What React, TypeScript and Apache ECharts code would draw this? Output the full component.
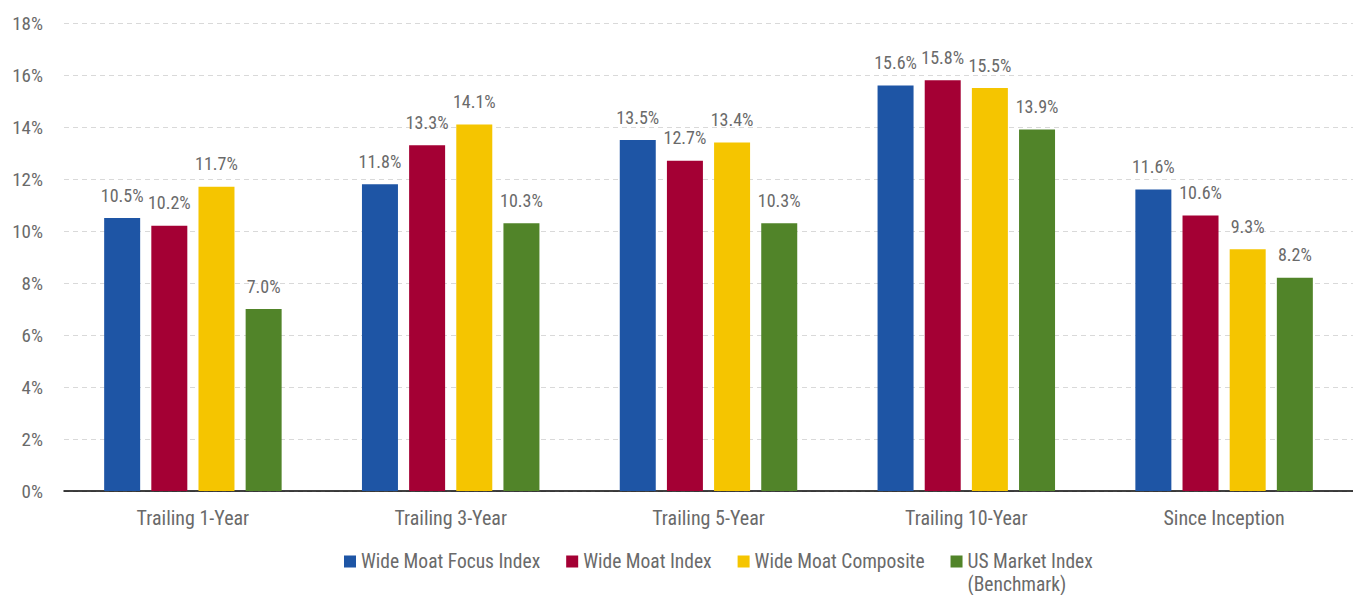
import React, { useEffect, useRef } from "react";
import * as echarts from "echarts";

const categories = ["Trailing 1-Year", "Trailing 3-Year", "Trailing 5-Year", "Trailing 10-Year", "Since Inception"];
const seriesNames = ["Wide Moat Focus Index", "Wide Moat Index", "Wide Moat Composite", "US Market Index\n(Benchmark)"];
const focusIndex = [10.5, 11.8, 13.5, 15.6, 11.6];
const moatIndex = [10.2, 13.3, 12.7, 15.8, 10.6];
const composite = [11.7, 14.1, 13.4, 15.5, 9.3];
const marketIndex = [7.0, 10.3, 10.3, 13.9, 8.2];
const colors = ["#1e55a5", "#a40034", "#f5c500", "#518429"];

const FONT = "'Roboto Condensed', 'Liberation Sans Narrow', 'DejaVu Sans Condensed', 'Arial Narrow', sans-serif";
const TEXT = "#6a6a6a";

export default function App() {
  const ref = useRef<HTMLDivElement>(null);
  useEffect(() => {
    if (!ref.current) return;
    const chart = echarts.init(ref.current, null, { renderer: "svg" });
    const data = [focusIndex, moatIndex, composite, marketIndex];
    chart.setOption({
      animation: false,
      textStyle: { fontFamily: FONT },
      grid: { left: 64, right: 0, top: 23, bottom: 104 },
      legend: {
        left: 339,
        top: 545,
        itemWidth: 12,
        itemHeight: 35,
        itemGap: 26,
        icon: "path://M0 0h12v12h-12Z M0 34.9h0.1v0.1h-0.1Z",
        formatter: (name: string) => (name.indexOf("\n") >= 0 ? name : name + "\n "),
        textStyle: { fontFamily: FONT, fontSize: 19.5, color: TEXT, lineHeight: 23 },
        data: seriesNames,
      },
      xAxis: {
        type: "category",
        data: categories,
        axisLine: { lineStyle: { color: "#000", width: 1.5 } },
        axisTick: { show: false },
        axisLabel: { color: TEXT, fontSize: 20, fontFamily: FONT, margin: 17 },
      },
      yAxis: {
        type: "value",
        min: 0,
        max: 18,
        interval: 2,
        axisLine: { show: false },
        axisTick: { show: false },
        axisLabel: { color: TEXT, fontSize: 19, fontFamily: FONT, margin: 21, formatter: "{value}%" },
        splitLine: { lineStyle: { color: "#d9d9d9", type: [5, 4] } },
      },
      series: seriesNames.map((n, i) => ({
        name: n,
        type: "bar",
        data: data[i],
        barWidth: 36,
        barGap: "31%",
        itemStyle: { color: colors[i] },
        label: {
          show: true,
          position: "top",
          distance: 14,
          color: TEXT,
          fontSize: 18,
          fontFamily: FONT,
          formatter: (p: any) => p.value.toFixed(1) + "%",
        },
      })),
    });
    return () => chart.dispose();
  }, []);
  return <div ref={ref} style={{ width: 1353, height: 595, position: "absolute", left: 0, top: 0 }} />;
}
